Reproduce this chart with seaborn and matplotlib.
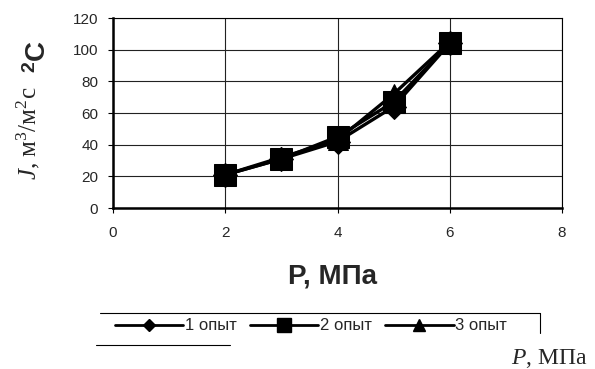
import matplotlib
matplotlib.use("Agg")
import matplotlib.pyplot as plt
from matplotlib.lines import Line2D
import seaborn as sns
import pandas as pd

pressure = [2, 3, 4, 5, 6]
run1 = [21, 31, 42, 64, 104]
run2 = [21, 31, 45, 67, 104]
run3 = [21, 32, 43, 72, 105]
labels = ['1 опыт', '2 опыт', '3 опыт']

df = pd.DataFrame({
    'P': pressure * 3,
    'J': run1 + run2 + run3,
    'run': [labels[0]] * 5 + [labels[1]] * 5 + [labels[2]] * 5,
})

sns.set_style("white")
plt.rcParams['font.family'] = ['Liberation Sans', 'DejaVu Sans']
plt.rcParams['mathtext.fontset'] = 'custom'
plt.rcParams['mathtext.rm'] = 'Liberation Serif'
plt.rcParams['mathtext.it'] = 'Liberation Serif:italic'
plt.rcParams['mathtext.bf'] = 'Liberation Sans:bold'

fig = plt.figure(figsize=(5.95, 3.69), dpi=100)
ax = fig.add_axes([0.19, 0.4363, 0.7545, 0.5147])

markers = {labels[0]: 'D', labels[1]: 's', labels[2]: '^'}
sizes = {labels[0]: 12, labels[1]: 16, labels[2]: 15}
for lab in labels:
    sns.lineplot(data=df[df.run == lab], x='P', y='J', ax=ax, color='black',
                 marker=markers[lab], markersize=sizes[lab], linewidth=2.4,
                 markeredgecolor='black', legend=False)

ax.set_xlim(0, 8)
ax.set_ylim(0, 120)
ax.set_xticks(range(0, 9, 2))
ax.set_yticks(range(0, 121, 20))
ax.grid(True, color='#222222', linewidth=0.8)
ax.tick_params(axis='y', direction='out', length=3.6, width=0.8, color='black',
               labelsize=11, pad=7, left=True)
ax.tick_params(axis='x', direction='out', length=3.6, width=0.8, color='black',
               labelsize=11, pad=9, bottom=True)
for s in ax.spines.values():
    s.set_color('black')
    s.set_linewidth(0.8)
ax.spines['left'].set_linewidth(1.8)
ax.spines['bottom'].set_linewidth(1.8)
ax.set_xlabel('')
ax.set_ylabel('')

fig.text(332 / 595, 1 - 277 / 369, 'P, МПа', fontsize=20, fontweight='bold',
         ha='center', va='center')

# y-axis label pieces
fig.text(28 / 595, 1 - 133 / 369, r'$J$, м$^3$/м$^2$с', family='Liberation Serif',
         fontsize=18, rotation=90, ha='center', va='center')
fig.text(38 / 595, 1 - 56 / 369, r'$\mathbf{^2C}$', fontsize=20,
         rotation=90, ha='center', va='center')

handles = [Line2D([], [], color='black', linewidth=2, marker=m, markersize=ms)
           for m, ms in zip(['D', 's', '^'], [6, 9.5, 9])]
fig.legend(handles, labels, loc='center', bbox_to_anchor=(311 / 595, 1 - 326 / 369),
           ncol=3, frameon=False, fontsize=12, handlelength=4.1, handletextpad=0.1,
           columnspacing=0.8, borderpad=0)

# partial legend border
fig.add_artist(Line2D([100 / 595, 540 / 595], [1 - 313 / 369] * 2, color='black', linewidth=0.8))
fig.add_artist(Line2D([540 / 595] * 2, [1 - 313 / 369, 1 - 333 / 369], color='black', linewidth=0.8))
fig.add_artist(Line2D([96 / 595, 230 / 595], [1 - 345 / 369] * 2, color='black', linewidth=0.8))

fig.text(549 / 595, 1 - 364 / 369, r'$P$, МПа', family='Liberation Serif', fontsize=17,
         ha='center', va='baseline')

fig.savefig('out.png', dpi=100)
